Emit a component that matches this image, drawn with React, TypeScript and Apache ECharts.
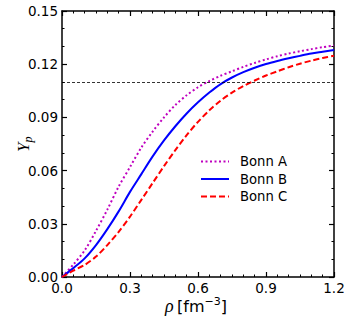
import React, { useEffect, useRef } from "react";
import * as echarts from "echarts";

const rho = [0, 0.05, 0.1, 0.15, 0.2, 0.25, 0.3, 0.35, 0.4, 0.45, 0.5, 0.55, 0.6, 0.65, 0.7, 0.75, 0.8, 0.85, 0.9, 0.95, 1.0, 1.05, 1.1, 1.15, 1.2];
const bonnA = [0, 0.007, 0.015, 0.026, 0.038, 0.051, 0.062, 0.073, 0.082, 0.09, 0.097, 0.1025, 0.107, 0.1105, 0.1135, 0.116, 0.1185, 0.1207, 0.1227, 0.1245, 0.126, 0.1273, 0.1285, 0.1296, 0.1305];
const bonnB = [0, 0.005, 0.0105, 0.018, 0.027, 0.037, 0.048, 0.058, 0.068, 0.077, 0.085, 0.0922, 0.0985, 0.104, 0.1088, 0.1125, 0.1155, 0.118, 0.1201, 0.1218, 0.1233, 0.1247, 0.126, 0.127, 0.128];
const bonnC = [0, 0.0036, 0.0068, 0.0115, 0.018, 0.0255, 0.034, 0.0435, 0.053, 0.0625, 0.0715, 0.08, 0.0875, 0.094, 0.0995, 0.104, 0.1077, 0.1108, 0.1136, 0.116, 0.1183, 0.1203, 0.122, 0.1235, 0.1248];
const refLine = 0.11;
const xTicks = [0, 0.3, 0.6, 0.9, 1.2];
const yTicks = [0, 0.03, 0.06, 0.09, 0.12, 0.15];

const pairs = (ys: number[]) => rho.map((x, i) => [x, ys[i]]);

export default function App() {
  const ref = useRef<HTMLDivElement>(null);
  useEffect(() => {
    if (!ref.current) return;
    const chart = echarts.init(ref.current, null, { renderer: "svg" });
    const font = "DejaVu Sans";
    const axisCommon = (show: boolean) => ({
      axisLine: { show: true, onZero: false, lineStyle: { color: "#000", width: 1.5 } },
      axisTick: { show: true, inside: true, length: 5, lineStyle: { color: "#000", width: 1.2 } },
      minorTick: { show: true, length: 2.5, lineStyle: { color: "#000", width: 1 } },
      splitLine: { show: false },
      axisLabel: { show },
    });
    chart.setOption({
      animation: false,
      grid: { left: 62, right: 17, top: 11, bottom: 44, containLabel: false },
      xAxis: [
        {
          type: "value", min: xTicks[0], max: xTicks[xTicks.length - 1], interval: 0.3, position: "bottom",
          ...axisCommon(true),
          minorTick: { show: true, splitNumber: 6, length: 2.5, lineStyle: { color: "#000", width: 1 } },
          axisLabel: { show: true, margin: 4, color: "#000", fontFamily: font, fontSize: 13.5, formatter: (v: number) => v.toFixed(1) },
        },
        {
          type: "value", min: xTicks[0], max: xTicks[xTicks.length - 1], interval: 0.3, position: "top",
          ...axisCommon(false),
          minorTick: { show: true, splitNumber: 6, length: 2.5, lineStyle: { color: "#000", width: 1 } },
        },
      ],
      yAxis: [
        {
          type: "value", min: yTicks[0], max: yTicks[yTicks.length - 1], interval: 0.03, position: "left",
          ...axisCommon(true),
          minorTick: { show: true, splitNumber: 3, length: 2.5, lineStyle: { color: "#000", width: 1 } },
          axisLabel: { show: true, margin: 4, color: "#000", fontFamily: font, fontSize: 13.5, formatter: (v: number) => v.toFixed(2) },
        },
        {
          type: "value", min: yTicks[0], max: yTicks[yTicks.length - 1], interval: 0.03, position: "right",
          ...axisCommon(false),
          minorTick: { show: true, splitNumber: 3, length: 2.5, lineStyle: { color: "#000", width: 1 } },
        },
      ],
      legend: {
        orient: "vertical", left: 195, top: 150, itemWidth: 28, itemHeight: 10, itemGap: 4.5,
        itemStyle: { opacity: 0 },
        textStyle: { fontFamily: font, fontSize: 13.2, color: "#000", padding: [0, 0, 0, 6] },
        data: ["Bonn A", "Bonn B", "Bonn C"],
      },
      graphic: [
        {
          type: "text", x: 12, y: 152, rotation: Math.PI / 2,
          style: {
            text: "{a|Y}{b|p}",
            rich: {
              a: { fontFamily: "Liberation Serif", fontStyle: "italic", fontSize: 17, fill: "#000" },
              b: { fontFamily: "Liberation Serif", fontStyle: "italic", fontSize: 12, fill: "#000", padding: [10, 0, 0, 0] },
            },
          },
        },
        {
          type: "text", x: 196, y: 306,
          style: {
            text: "{r|ρ} {t|[fm}{s|−3}{t|]}",
            align: "center", verticalAlign: "middle",
            rich: {
              r: { fontFamily: "Liberation Serif", fontStyle: "italic", fontSize: 18, fill: "#000" },
              t: { fontFamily: font, fontSize: 16, fill: "#000" },
              s: { fontFamily: font, fontSize: 11, fill: "#000", padding: [0, 0, 10, 0] },
            },
          },
        },
      ],
      series: [
        {
          name: "Bonn A", type: "line", data: pairs(bonnA), symbol: "none", smooth: 0.3,
          lineStyle: { color: "#bf00bf", width: 2, type: [2, 2.5] }, itemStyle: { color: "#bf00bf" },
        },
        {
          name: "Bonn B", type: "line", data: pairs(bonnB), symbol: "none", smooth: 0.3,
          lineStyle: { color: "#0000ff", width: 2, type: "solid" }, itemStyle: { color: "#0000ff" },
        },
        {
          name: "Bonn C", type: "line", data: pairs(bonnC), symbol: "none", smooth: 0.3,
          lineStyle: { color: "#ff0000", width: 2, type: [6, 3] }, itemStyle: { color: "#ff0000" },
          markLine: {
            silent: true, symbol: "none", label: { show: false },
            lineStyle: { color: "#000", width: 0.8, type: [3, 2] },
            data: [{ yAxis: refLine }],
          },
        },
      ],
    });
    return () => chart.dispose();
  }, []);
  return <div ref={ref} style={{ width: 351, height: 321, position: "absolute", left: 0, top: 0 }} />;
}
